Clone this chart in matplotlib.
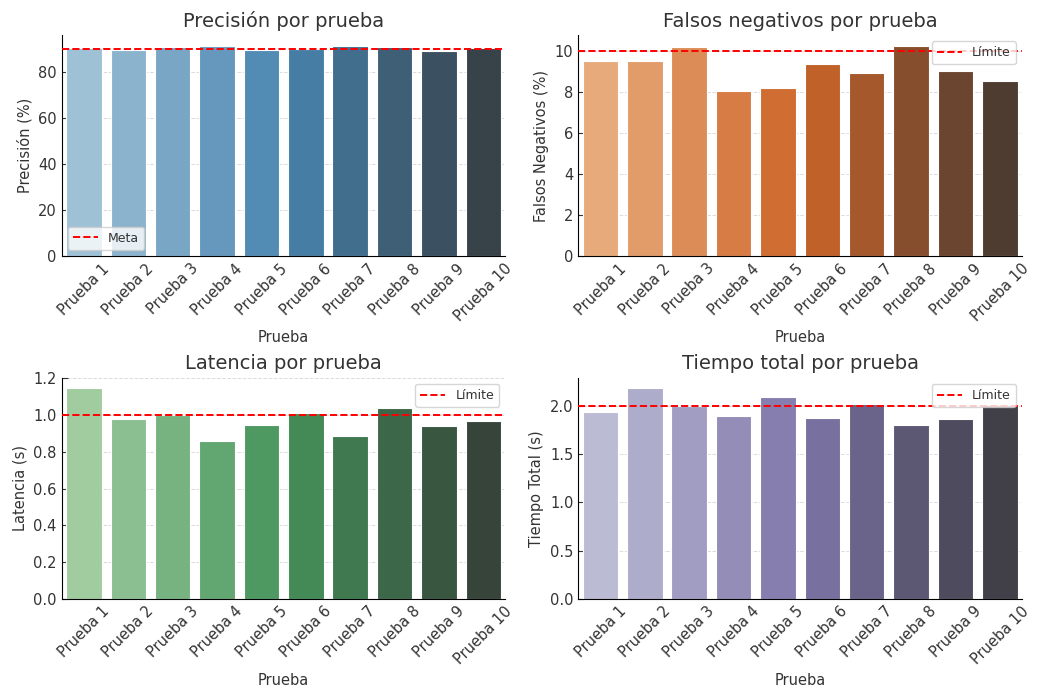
import matplotlib
matplotlib.use("Agg")
import matplotlib.pyplot as plt
import seaborn as sns
import numpy as np

pruebas = ["Prueba %d" % i for i in range(1, 11)]

precision = [90.6, 89.9, 90.9, 91.7, 89.8, 90.0, 91.7, 91.0, 89.5, 90.7]
falsos_neg = [9.51, 9.51, 10.2, 8.07, 8.23, 9.4, 8.94, 10.29, 9.04, 8.55]
latencia = [1.146, 0.979, 1.002, 0.859, 0.946, 1.011, 0.885, 1.037, 0.941, 0.970]
tiempo_total = [1.938, 2.183, 1.995, 1.896, 2.09, 1.876, 2.017, 1.803, 1.865, 2.007]

meta_precision = 90
limite_fn = 10
limite_lat = 1.0
limite_tiempo = 2.0

plt.rcParams["font.family"] = ["DejaVu Sans"]
plt.rcParams["text.color"] = "#333333"
plt.rcParams["axes.labelcolor"] = "#333333"
plt.rcParams["xtick.color"] = "#333333"
plt.rcParams["ytick.color"] = "#333333"

fig, axes = plt.subplots(2, 2, figsize=(10.46, 6.86), dpi=100)
fig.subplots_adjust(left=0.059, right=0.977, top=0.949, bottom=0.127,
                    wspace=0.164, hspace=0.55)

panels = [
    (axes[0, 0], precision, "Blues_d", "Precisión por prueba", "Precisión (%)", meta_precision, "Meta", "lower left"),
    (axes[0, 1], falsos_neg, "Oranges_d", "Falsos negativos por prueba", "Falsos Negativos (%)", limite_fn, "Límite", "upper right"),
    (axes[1, 0], latencia, "Greens_d", "Latencia por prueba", "Latencia (s)", limite_lat, "Límite", "upper right"),
    (axes[1, 1], tiempo_total, "Purples_d", "Tiempo total por prueba", "Tiempo Total (s)", limite_tiempo, "Límite", "upper right"),
]

for ax, vals, pal, title, ylabel, ref, reflabel, loc in panels:
    # seaborn barplot desaturates its palette by 0.75
    colors = [sns.desaturate(c, 0.75) for c in sns.color_palette(pal, len(vals))]
    x = np.arange(len(pruebas))
    ax.bar(x, vals, width=0.8, color=colors, edgecolor="white", linewidth=0.8, zorder=2)
    ax.axhline(ref, color="red", linestyle="--", linewidth=1.4, label=reflabel, zorder=3)
    ax.set_xlim(-0.5, len(vals) - 0.5)
    ax.set_ylim(0, max(vals) * 1.05)
    ax.set_xticks(x)
    ax.set_xticklabels(pruebas, rotation=45, fontsize=10.5)
    ax.tick_params(axis="y", labelsize=10.5)
    ax.tick_params(direction="in", length=4)
    ax.set_title(title, fontsize=14)
    ax.set_xlabel("Prueba", fontsize=10.5)
    ax.set_ylabel(ylabel, fontsize=10.5)
    ax.grid(axis="y", linestyle="--", color="#cccccc", linewidth=0.7, alpha=0.7, zorder=0)
    ax.set_axisbelow(True)
    ax.spines["top"].set_visible(False)
    ax.spines["right"].set_visible(False)
    ax.legend(loc=loc, fontsize=9, framealpha=0.8)

fig.savefig("out.png", dpi=100)
